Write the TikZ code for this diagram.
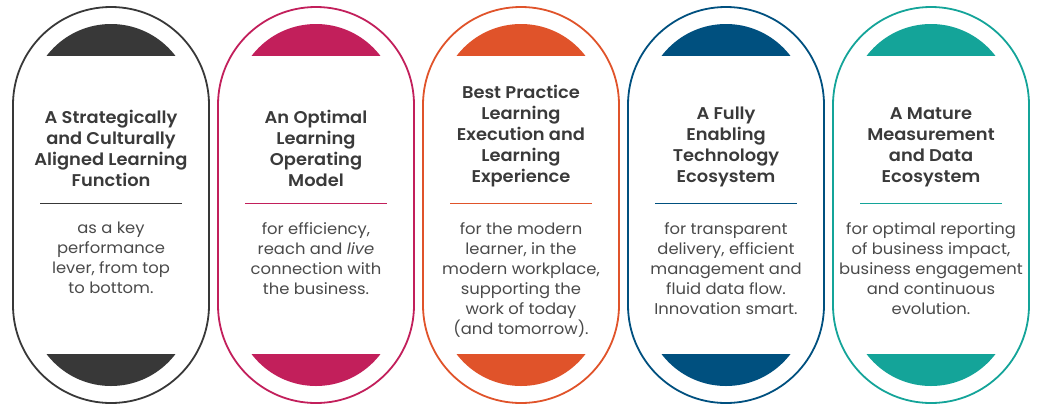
\documentclass[tikz,border=0pt]{standalone}
\usepackage{fontspec}
\setmainfont{Poppins}
\newfontfamily\titlefont[FakeStretch=1.05]{Poppins SemiBold}
\newfontfamily\bodyfont[FakeStretch=1.05]{Poppins}
\definecolor{cdark}{HTML}{383838}
\definecolor{cmag}{HTML}{C21F5B}
\definecolor{corange}{HTML}{E0532A}
\definecolor{cblue}{HTML}{00507F}
\definecolor{cteal}{HTML}{14A499}
\definecolor{ctext}{HTML}{3A3A3A}
\definecolor{cbody}{HTML}{4A4A4A}
\tikzset{
  pill/.style={draw=#1, line width=1.8pt, minimum width=196pt, minimum height=396pt, rounded corners=97.9pt, inner sep=0pt},
  titletxt/.style={anchor=south, align=center, text=ctext, font=\titlefont\fontsize{17}{21}\selectfont, inner sep=0pt},
  bodytxt/.style={anchor=north, align=center, text=cbody, font=\bodyfont\fontsize{15.6}{20}\selectfont, inner sep=0pt},
  rulel/.style={draw=#1, line width=0.8pt}
}
\newcommand{\mypill}[5]{%
  \node[pill=#3] (p#1) at (#2,205) {};
  \begin{scope}
    \clip (#2-100,0) rectangle (#2+100,55);
    \fill[#3] (#2,105) circle (81);
  \end{scope}
  \begin{scope}
    \clip (#2-100,354) rectangle (#2+100,405);
    \fill[#3] (#2,305) circle (81);
  \end{scope}
  \node[titletxt] (t#1) at (#2,187) {#4};
  \coordinate (ra#1) at (#2-71,203);
  \coordinate (rb#1) at (#2+71,203);
  \draw[rulel=#3] (ra#1) -- (rb#1);
  \node[bodytxt] (b#1) at (#2,222) {#5};
}
\begin{document}
\begin{tikzpicture}[x=1pt,y=-1pt]
\useasboundingbox (0,0) rectangle (1038,405);
\mypill{1}{111}{cdark}{A Strategically\\and Culturally\\Aligned Learning\\Function}{as a key\\performance\\lever, from top\\to bottom.}
\mypill{2}{316}{cmag}{An Optimal\\Learning\\Operating\\Model}{for efficiency,\\reach and \emph{live}\\connection with\\the business.}
\mypill{3}{521}{corange}{Best Practice\\Learning\\Execution and\\Learning\\Experience}{for the modern\\learner, in the\\modern workplace,\\supporting the\\work of today\\(and tomorrow).}
\mypill{4}{726}{cblue}{A Fully\\Enabling\\Technology\\Ecosystem}{for transparent\\delivery, efficient\\management and\\fluid data flow.\\Innovation smart.}
\mypill{5}{931}{cteal}{A Mature\\Measurement\\and Data\\Ecosystem}{for optimal reporting\\of business impact,\\business engagement\\and continuous\\evolution.}
\end{tikzpicture}
\end{document}
